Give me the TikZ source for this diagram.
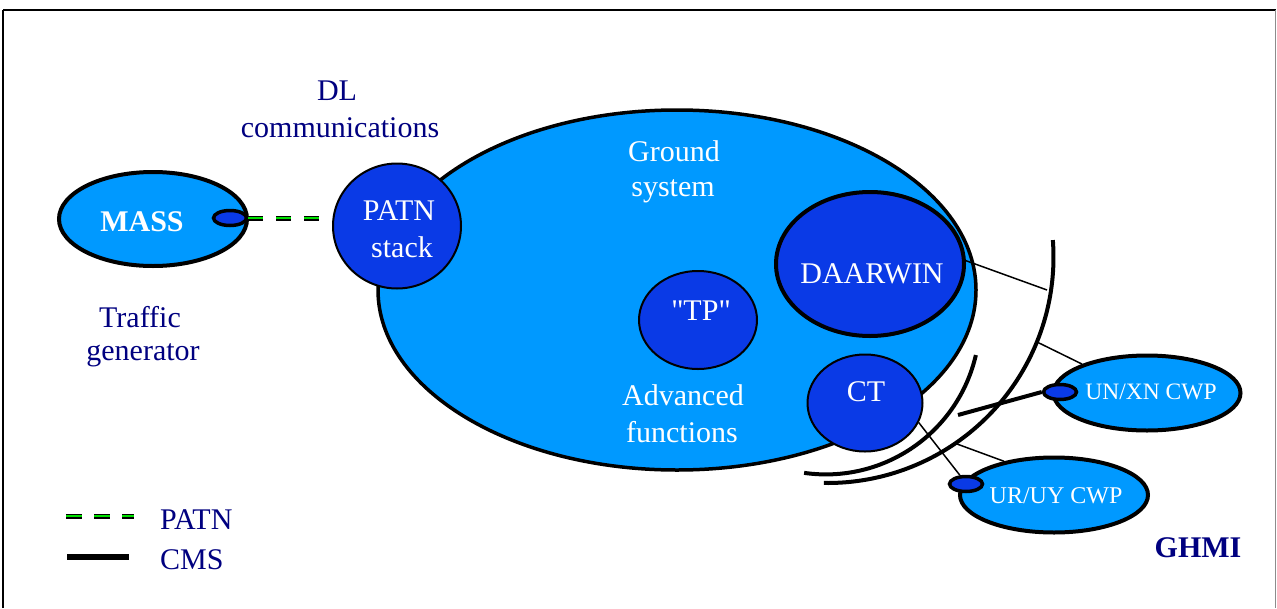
\documentclass[tikz,border=0pt]{standalone}
\usepackage{fontspec}
\setmainfont{Liberation Serif}
\newfontfamily\qfont{Liberation Serif}
\usetikzlibrary{shapes.geometric}
\definecolor{lb}{RGB}{0,153,255}
\definecolor{db}{RGB}{10,58,230}
\definecolor{navy}{RGB}{0,0,128}
\definecolor{pgreen}{RGB}{0,225,0}
\begin{document}
\begin{tikzpicture}[x=1pt,y=-1pt,
  shp/.style={ellipse, draw=black, inner sep=0pt},
  port/.style={ellipse, draw=black, fill=db, line width=3.5pt, minimum width=33pt, minimum height=15pt, inner sep=0pt},
  wlbl/.style={anchor=base, text=white, inner sep=0pt, font=\fontsize{30}{36}\selectfont},
  nlbl/.style={anchor=base, text=navy, inner sep=0pt, font=\fontsize{30}{36}\selectfont},
  patnline/.style={double=pgreen, double distance=2.4pt, line width=1.3pt, dash pattern=on 15pt off 13pt},
  cmsline/.style={line width=4pt},
  thinline/.style={line width=1.5pt},
  arcline/.style={line width=4pt}]
\useasboundingbox (0,0) rectangle (1277,608);
% frame
\draw[line width=1.5pt] (3,608) -- (3,10);
\draw[line width=2pt] (3,10) -- (1275.5,10);
\draw[line width=1pt, black!45] (1275.5,10) -- (1275.5,608);

% ground system
\node[shp, fill=lb, line width=3.5pt, minimum width=598pt, minimum height=360pt] (ground) at (677,290) {};
% MASS
\node[shp, fill=lb, line width=4pt, minimum width=188pt, minimum height=94pt] (mass) at (153,219) {};
\node[port] (massport) at (230,218) {};
% inner nodes
\node[shp, fill=db, line width=2pt, minimum width=128pt, minimum height=125pt] (patn) at (397,226) {};
\node[shp, fill=db, line width=4pt, minimum width=188pt, minimum height=144pt] (daarwin) at (870,264) {};
\node[shp, fill=db, line width=2pt, minimum width=118pt, minimum height=98pt] (tp) at (698,320) {};
\node[shp, fill=db, line width=2pt, minimum width=115pt, minimum height=97pt] (ct) at (865,403) {};
% CWPs
\node[shp, fill=lb, line width=4pt, minimum width=187pt, minimum height=75pt] (unxn) at (1147,393) {};
\node[port] (unxnport) at (1060,392) {};
\node[shp, fill=lb, line width=4pt, minimum width=188pt, minimum height=75pt] (urcwp) at (1054,495) {};
\node[port] (urport) at (966,484) {};

% arcs
\draw[arcline] ([shift={(-4.3:226)}]827.5,257) arc[start angle=-4.3, end angle=90.9, radius=226];
\draw[arcline] ([shift={(13:154)}]825.8,320.4) arc[start angle=13, end angle=98.1, radius=154];

% connectors
\draw[patnline] (massport.east) -- (massport.east -| patn.west);
\coordinate (a1) at (1047,290);
\coordinate (a2) at (1037,342);
\coordinate (a3) at (957,444);
\coordinate (c1) at (958,415);
\draw[thinline] (daarwin.2) -- (a1);
\draw[thinline] (a2) -- (unxn.156);
\draw[cmsline] (c1) -- (unxnport.west);
\draw[thinline] (ct.-20) -- (urport.125);
\draw[thinline] (a3) -- (urcwp.146);

% texts
\node[nlbl] (dl1) at (337,100) {DL};
\node[nlbl] (dl2) at (340,137) {communications};
\node[nlbl] (tg1) at (140,327) {Traffic};
\node[nlbl] (tg2) at (143,360) {generator};
\node[wlbl, font=\fontsize{30}{36}\selectfont\bfseries] (masst) at (142,231) {MASS};
\node[wlbl] (patn1) at (399,220) {PATN};
\node[wlbl] (patn2) at (402,257) {stack};
\node[wlbl] (gs1) at (674,161) {Ground};
\node[wlbl] (gs2) at (673,196) {system};
\node[wlbl] (tpt) at (701,320) {{\qfont"}TP{\qfont"}};
\node[wlbl] (af1) at (683,405) {Advanced};
\node[wlbl] (af2) at (682,442) {functions};
\node[wlbl] (dwt) at (872,283) {DAARWIN};
\node[wlbl] (ctt) at (866,401) {CT};
\node[wlbl, font=\fontsize{23.5}{28}\selectfont] (unxnt) at (1151,399) {UN/XN CWP};
\node[wlbl, font=\fontsize{24}{28}\selectfont] (urt) at (1056,503) {UR/UY CWP};
\node[nlbl, font=\fontsize{30}{36}\selectfont\bfseries] (ghmi) at (1198,557) {GHMI};

% legend
\coordinate (lp1) at (66,516);
\coordinate (lp2) at (134,516);
\draw[patnline, dash pattern=on 16pt off 12pt] (lp1) -- (lp2);
\coordinate (lc1) at (67,557);
\coordinate (lc2) at (129,557);
\draw[line width=6pt] (lc1) -- (lc2);
\node[nlbl, anchor=base west] (lgp) at (160,529) {PATN};
\node[nlbl, anchor=base west] (lgc) at (160,569) {CMS};
\end{tikzpicture}
\end{document}
